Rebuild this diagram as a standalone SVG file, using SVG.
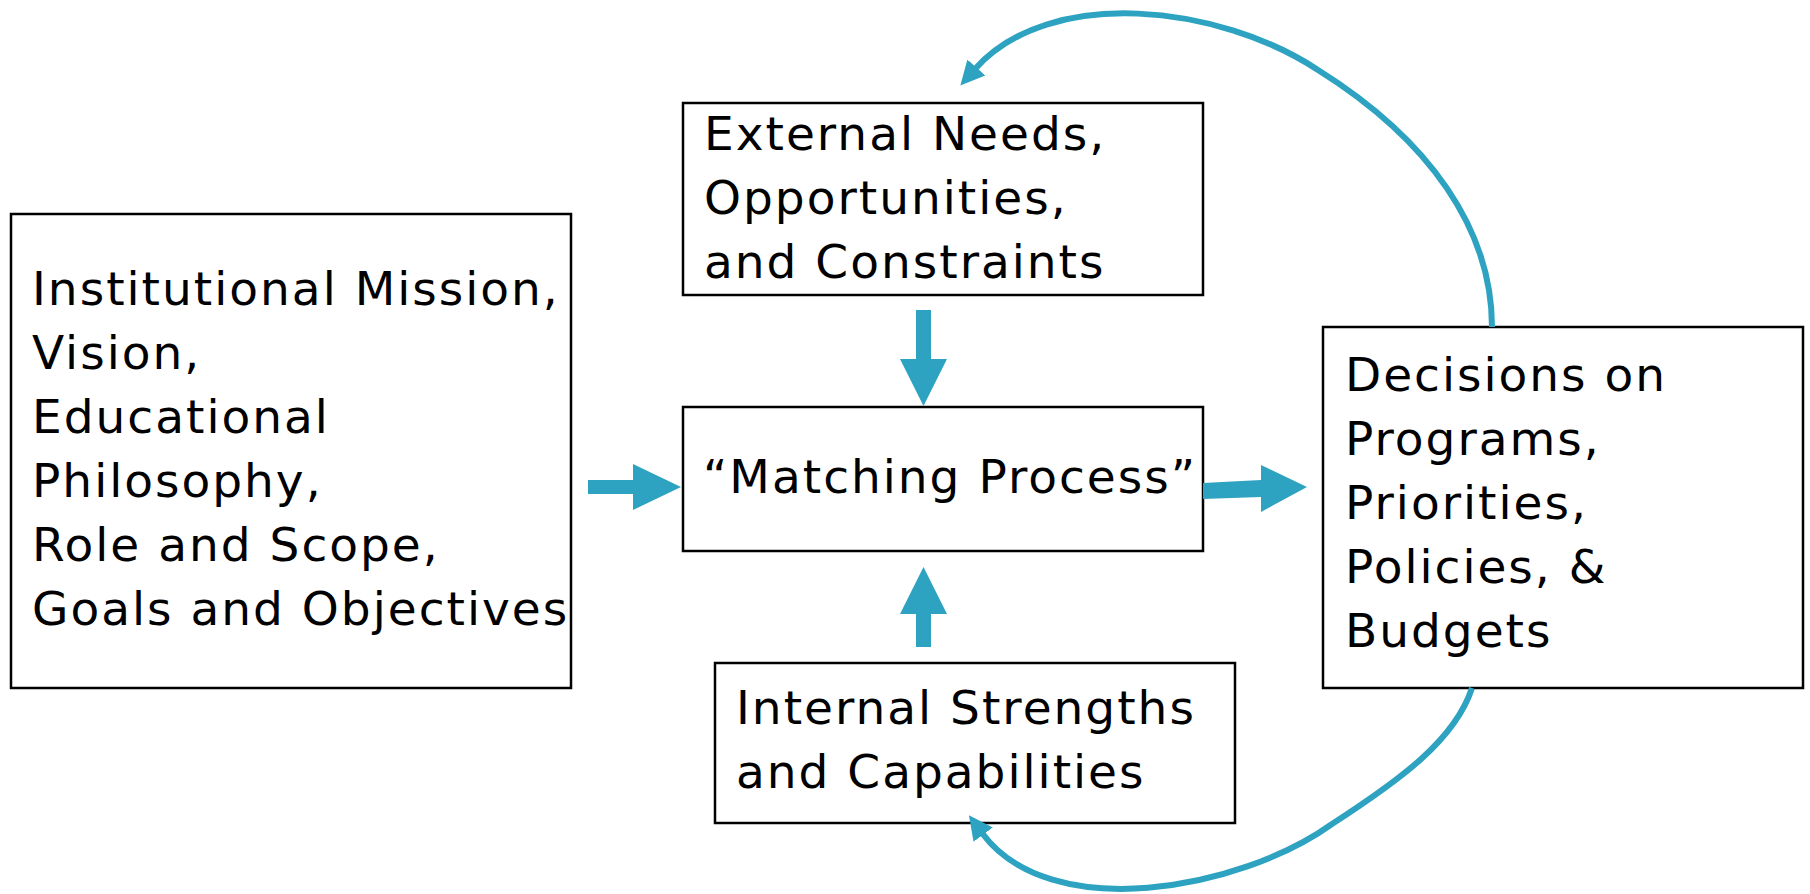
<svg xmlns="http://www.w3.org/2000/svg" width="1810" height="894" viewBox="0 0 1810 894">
<style>
.box{fill:#fff;stroke:#000;stroke-width:2.5}
.t{font-family:"DejaVu Sans","Verdana",sans-serif;font-size:47px;letter-spacing:2px;fill:#000}
.blk{fill:#2EA3C1;stroke:none}
.crv{fill:none;stroke:#2EA3C1;stroke-width:6}
</style>
<defs>
<marker id="ah" markerUnits="userSpaceOnUse" markerWidth="30" markerHeight="30" refX="2" refY="12" orient="auto" viewBox="0 0 30 24">
<path d="M0,0 L24,12 L0,24 z" fill="#2EA3C1"/>
</marker>
</defs>
<rect width="1810" height="894" fill="#fff"/>
<g id="mission">
<rect class="box" x="11" y="214" width="560" height="474"/>
<text class="t" x="32" y="305">Institutional Mission,</text>
<text class="t" x="32" y="369">Vision,</text>
<text class="t" x="32" y="433">Educational</text>
<text class="t" x="32" y="497">Philosophy,</text>
<text class="t" x="32" y="561">Role and Scope,</text>
<text class="t" x="32" y="625">Goals and Objectives</text>
</g>
<g id="external">
<rect class="box" x="683" y="103" width="520" height="192"/>
<text class="t" x="704" y="150">External Needs,</text>
<text class="t" x="704" y="214">Opportunities,</text>
<text class="t" x="704" y="278">and Constraints</text>
</g>
<g id="matching">
<rect class="box" x="683" y="407" width="520" height="144"/>
<text class="t" x="703" y="493">“Matching Process”</text>
</g>
<g id="internal">
<rect class="box" x="715" y="663" width="520" height="160"/>
<text class="t" x="736" y="724">Internal Strengths</text>
<text class="t" x="736" y="788">and Capabilities</text>
</g>
<g id="decisions">
<rect class="box" x="1323" y="327" width="480" height="361"/>
<text class="t" x="1345" y="391">Decisions on</text>
<text class="t" x="1345" y="455">Programs,</text>
<text class="t" x="1345" y="519">Priorities,</text>
<text class="t" x="1345" y="583">Policies, &amp;</text>
<text class="t" x="1345" y="647">Budgets</text>
</g>
<g id="connectors">
<polygon class="blk" points="588,480 633,480 633,464 681,487 633,510 633,494 588,494"/>
<polygon class="blk" points="916,310 931,310 931,359 947,359 923.5,406 900,359 916,359"/>
<polygon class="blk" points="916,647 931,647 931,614 947,614 923.5,567 900,614 916,614"/>
<polygon class="blk" points="1203,483 1261,480 1261,465 1307,487 1261,512 1261,497 1203,499"/>
<path class="crv" d="M1492,327 C1492,230 1430,140 1318,70 C1220,5 1050,-15 975,69" marker-end="url(#ah)"/>
<path class="crv" d="M1472,688 C1455,740 1400,780 1332,824 C1240,890 1050,925 982,833" marker-end="url(#ah)"/>
</g>
</svg>
